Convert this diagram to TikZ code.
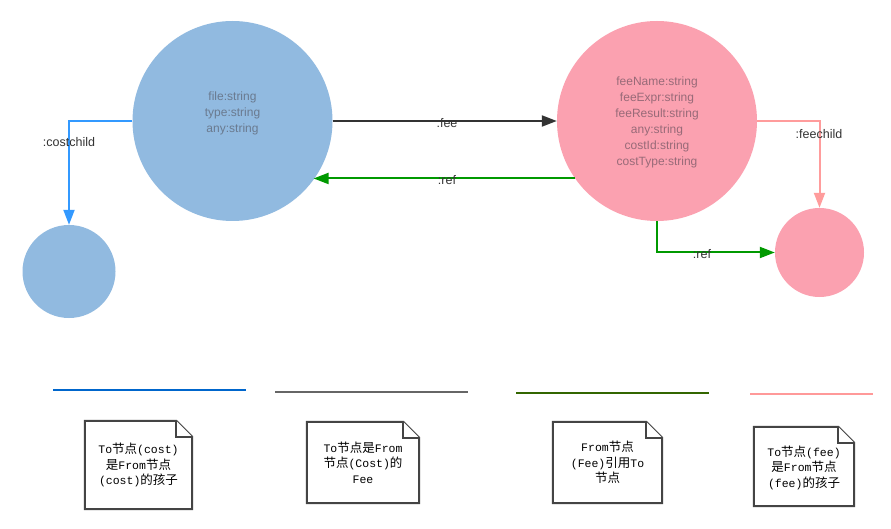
\documentclass[tikz,border=0pt]{standalone}
\usepackage{fontspec}
\setmainfont{Liberation Sans}
\newfontfamily\cjkfont{Noto Sans CJK SC}
\newfontfamily\monofnt{Liberation Mono}
\usetikzlibrary{arrows.meta}
\definecolor{bluefill}{HTML}{91BAE0}
\definecolor{pinkfill}{HTML}{FBA1B0}
\definecolor{bluetext}{HTML}{6A7A8F}
\definecolor{pinktext}{HTML}{986A78}
\definecolor{costline}{HTML}{3399FF}
\definecolor{feeline}{HTML}{333333}
\definecolor{refline}{HTML}{009900}
\definecolor{childline}{HTML}{FF9C9C}
\definecolor{legblue}{HTML}{0066CC}
\definecolor{leggray}{HTML}{666666}
\definecolor{leggreen}{HTML}{336600}
\definecolor{legpink}{HTML}{FF9999}
\definecolor{notebd}{HTML}{444444}
\definecolor{lbltext}{HTML}{333333}
\newcommand\myzh[1]{{\cjkfont\fontsize{12.5}{15.5}\selectfont #1}}
\begin{document}
\begin{tikzpicture}[x=1pt,y=-1pt,
  circ/.style={circle,draw=none,inner sep=0pt},
  ctext/.style={align=center,font=\fontsize{12}{16}\selectfont,inner sep=0pt},
  conn/.style={line width=2pt,-{Triangle[length=15pt,width=11pt]}},
  lbl/.style={font=\fontsize{12.5}{14}\selectfont,text=lbltext,inner sep=0pt},
  legline/.style={line width=2pt},
  note/.style={draw=none,inner sep=0pt,align=center,text=black,font=\monofnt\fontsize{11.5}{15.5}\selectfont},
  notebdr/.style={draw=notebd,line width=2pt,line join=miter,fill=white}
]
\useasboundingbox[fill=white] (0,0) rectangle (891,529);

% circles
\node[circ,fill=bluefill,minimum size=200pt] (cost) at (232.5,121) {};
\node[circ,fill=pinkfill,minimum size=200pt] (fee) at (657,121) {};
\node[circ,fill=bluefill,minimum size=93pt] (costchild) at (69,271.5) {};
\node[circ,fill=pinkfill,minimum size=89pt] (feechild) at (819.5,252.5) {};

% circle texts
\node[ctext,text=bluetext] (costtxt) at (232.5,113.5) {file:string\\type:string\\any:string};
\node[ctext,text=pinktext] (feetxt) at (657,122) {feeName:string\\feeExpr:string\\feeResult:string\\any:string\\costId:string\\costType:string};

% connectors
\draw[conn,draw=costline] (cost.west) -| (costchild.north);
\draw[conn,draw=feeline] (cost.east) -- (fee.west);
\draw[conn,draw=refline] (fee.215.5) -- (fee.215.5 -| cost.324.5);
\draw[conn,draw=childline] (fee.east) -| (feechild.north);
\draw[conn,draw=refline] (fee.south) |- (feechild.west);

% connector labels
\node[lbl] (lcostchild) at (69,142) {:costchild};
\node[lbl] (lfee) at (447,123) {:fee};
\node[lbl] (lref) at (447,180) {:ref};
\node[lbl] (lfeechild) at (819,134) {:feechild};
\node[lbl] (lref2) at (702,254) {:ref};

% legend lines
\draw[legline,draw=legblue] (53,390) -- (246,390);
\draw[legline,draw=leggray] (275,392) -- (468,392);
\draw[legline,draw=leggreen] (516,393) -- (709,393);
\draw[legline,draw=legpink] (750,394) -- (873,394);

% notes
\node[note,minimum width=107pt,minimum height=88pt] (n1) at (138.5,465) {};
\node[note,minimum width=112pt,minimum height=81pt] (n2) at (363,462.5) {};
\node[note,minimum width=109pt,minimum height=81pt] (n3) at (607.5,462.5) {};
\node[note,minimum width=100pt,minimum height=79pt] (n4) at (804,466.5) {};
\foreach \n in {n1,n2,n3,n4}{
  \draw[notebdr] (\n.north west) -- ([xshift=-16pt]\n.north east) -- ([yshift=-16pt]\n.north east) -- (\n.south east) -- (\n.south west) -- cycle;
  \draw[notebdr] ([xshift=-16pt]\n.north east) -- ([xshift=-16pt,yshift=-16pt]\n.north east) -- ([yshift=-16pt]\n.north east);
}
\node[note] (t1) at (n1.center) {To\myzh{节点}(cost)\\\myzh{是}From\myzh{节点}\\(cost)\myzh{的孩子}};
\node[note] (t2) at (n2.center) {To\myzh{节点是}From\\\myzh{节点}(Cost)\myzh{的}\\Fee};
\node[note] (t3) at (n3.center) {From\myzh{节点}\\(Fee)\myzh{引用}To\\\myzh{节点}};
\node[note] (t4) at ([yshift=-1pt]n4.center) {To\myzh{节点}(fee)\\\myzh{是}From\myzh{节点}\\(fee)\myzh{的孩子}};
\end{tikzpicture}
\end{document}
